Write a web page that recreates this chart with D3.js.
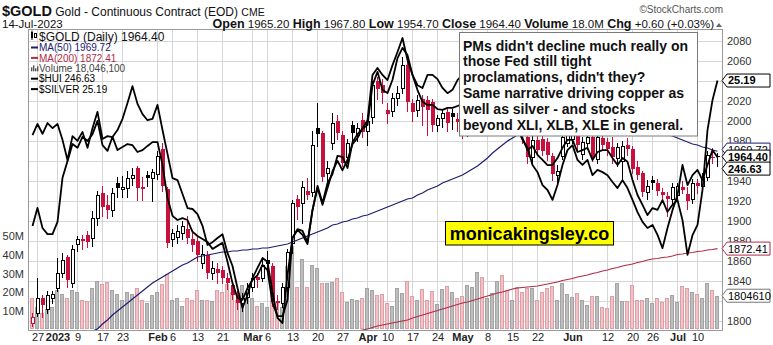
<!DOCTYPE html>
<html>
<head>
<meta charset="utf-8">
<title>$GOLD daily</title>
<script src="https://cdn.jsdelivr.net/npm/d3@7/dist/d3.min.js"></script>
<style>
  html, body { margin: 0; padding: 0; background: #ffffff; }
  svg { display: block; font-family: "Liberation Sans", Arial, Helvetica, sans-serif; }
</style>
</head>
<body>
<svg id="chart" width="773" height="345"></svg>
<script>
// ---------- trading sessions (Dec 23 2022 – Jul 14 2023) ----------
const sessionMonths = ["2022-12","2023-01","2023-02","2023-03","2023-04","2023-05","2023-06","2023-07"];
const sessionDays = [
  [23,27,28,29,30],
  [3,4,5,6,9,10,11,12,13,17,18,19,20,23,24,25,26,27,30,31],
  [1,2,3,6,7,8,9,10,13,14,15,16,17,21,22,23,24,27,28],
  [1,2,3,6,7,8,9,10,13,14,15,16,17,20,21,22,23,24,27,28,29,30,31],
  [3,4,5,6,10,11,12,13,14,17,18,19,20,21,24,25,26,27,28],
  [1,2,3,4,5,8,9,10,11,12,15,16,17,18,19,22,23,24,25,26,30,31],
  [1,2,5,6,7,8,9,12,13,14,15,16,20,21,22,23,26,27,28,29,30],
  [3,5,6,7,10,11,12,13,14]
];

// ---------- $GOLD daily OHLC ----------
const open = [
  1798,1808,1823,1812,1823,1833,1848,1864,1838,1877,
  1882,1886,1883,1903,1928,1916,1911,1938,1932,1933,
  1943,1953,1934,1946,1943,1947,1972,1932,1882,1884,
  1888,1892,1882,1880,1858,1866,1848,1852,1851,1843,
  1836,1826,1818,1824,1834,1844,1843,1861,1855,1820,
  1818,1834,1878,1922,1918,1930,1929,1993,1988,1948,
  1978,2000,1986,1964,1996,1986,2001,1990,2004,2040,
  2036,2011,2010,2023,2033,2056,2018,2011,2022,2021,
  2019,1996,2003,2009,2008,2002,1999,1990,2023,2042,
  2052,2024,2030,2036,2038,2030,2019,2022,1995,1984,
  1964,1981,1982,1979,1965,1946,1965,1978,1982,1996,
  1967,1978,1984,1962,1983,1979,1974,1963,1960,1976,
  1972,1954,1948,1929,1941,1938,1929,1925,1922,1926,
  1934,1927,1922,1938,1935,1944,1964.5,1965.2
];
const high = [
  1808,1843,1826,1830,1830,1863,1868,1866,1876,1885,
  1886,1890,1910,1930,1935,1926,1933,1944,1945,1950,
  1953,1955,1944,1950,1952,1970,1978,1934,1892,1896,
  1900,1905,1888,1884,1876,1870,1860,1858,1855,1848,
  1840,1830,1828,1838,1848,1848,1862,1870,1858,1826,
  1838,1872,1921,1926,1940,1943,1990,2018,1990,1960,
  2008,2006,1990,1982,2000,1998,2008,2006,2040,2044,
  2042,2018,2028,2035,2064,2060,2022,2026,2026,2025,
  2022,2006,2012,2012,2012,2008,2005,2025,2045,2085,
  2056,2036,2042,2050,2042,2034,2030,2025,2000,1988,
  1985,1987,1986,1983,1968,1956,1990,1995,2001,2000,
  1984,1990,1988,1987,1988,1983,1984,1978,1980,1983,
  1975,1960,1950,1941,1945,1942,1933,1929,1938,1938,
  1940,1934,1942,1942,1948,1970,1973,1967.8
];
const low = [
  1795,1805,1804,1808,1818,1830,1844,1834,1834,1870,
  1872,1874,1875,1896,1905,1903,1905,1924,1924,1924,
  1936,1921,1921,1935,1920,1942,1930,1874,1875,1878,
  1882,1878,1870,1860,1853,1843,1842,1838,1838,1832,
  1822,1812,1810,1818,1830,1834,1840,1850,1815,1812,
  1814,1830,1868,1902,1898,1922,1925,1975,1940,1938,
  1972,1982,1955,1958,1980,1980,1984,1976,1998,2022,
  2018,1998,2005,2016,2028,2010,2000,2005,1996,1986,
  1990,1990,1994,1990,1992,1990,1983,1985,2015,2038,
  2010,2018,2024,2025,2022,2010,2010,1990,1978,1958,
  1958,1968,1966,1961,1941,1938,1962,1975,1978,1970,
  1962,1972,1960,1958,1972,1966,1958,1955,1940,1966,
  1948,1942,1925,1922,1932,1926,1920,1905,1918,1920,
  1928,1912,1918,1928,1932,1941,1958,1954.7
];
const close = [
  1804,1823,1816,1826,1827,1848,1861,1841,1872,1882,
  1880,1879,1903,1926,1914,1911,1928,1933,1934,1943,
  1946,1933,1932,1943,1949,1965,1935,1878,1888,1890,
  1895,1883,1876,1866,1867,1848,1853,1848,1843,1838,
  1826,1818,1823,1832,1843,1841,1856,1857,1819,1818,
  1834,1869,1918,1914,1934,1926,1976,1987,1944,1953,
  1998,1988,1958,1978,1988,1993,1989,2000,2036,2032,
  2028,2007,2023,2028,2056,2019,2009,2021,2014,2011,
  1996,2003,2008,1998,2004,1999,1990,2023,2040,2050,
  2025,2030,2036,2038,2030,2019,2022,1995,1986,1964,
  1981,1971,1970,1966,1947,1950,1984,1986,1992,1976,
  1979,1984,1963,1984,1976,1972,1964,1974,1975,1972,
  1952,1946,1929,1935,1938,1930,1926,1922,1934,1935,
  1931,1920,1938,1935,1944,1966,1963.8,1964.4
];
const priorClose = 1810;

// volume, millions of contracts
const volume = [
  17,12,9,11,12,21,19,17,21,20,
  16,15,22,26,24.6,25.6,21,19,15.6,20,
  19,22,15.6,14,18.6,20,24.6,30,16,17,
  12.7,17,15.6,21,15.6,16,15,21,20,24.6,
  20,16,23.8,17,17,12.7,14,12,23,14,
  12,34,45,23,38,22.6,34.6,32.8,24.7,24.7,
  25.6,27.5,20,14.6,16.5,16,17,22,21,18.5,
  19,14,12.6,22,19.3,26,18,16,21.5,15.6,
  20.6,13.6,21.5,23.3,20,17,18,23.8,23,30.6,
  28.3,16.6,19.7,26,29,21,15.6,23,20,22,
  22,15.6,20,22,23.3,16,25,19,17.5,19.3,
  16,12.8,18,18,12,11.5,18,25,15.4,15,
  23.8,16,15.6,17,14,17,14.8,16.6,18.4,14.8,
  23.3,22,20,19,16.6,24.8,21,18.0461
];

// moving averages of the close
const ma50 = [
  1760,1762,1764,1766,1768,1771,1773,1776,1779,1782,
  1784,1787,1790,1792,1797,1801,1806,1810,1814,1818,
  1822,1826,1830,1834,1838,1841,1844,1847,1850,1853,
  1856,1858,1861,1864,1865,1866,1867,1868,1869,1869,
  1870,1870,1871,1871,1872,1872,1873,1873,1874,1875,
  1876,1877,1879,1881,1883,1885,1887,1889,1891,1893,
  1896,1897,1899,1900,1902,1903,1905,1906,1908,1910,
  1912,1914,1916,1918,1920,1922,1923,1926,1928,1931,
  1933,1935,1938,1940,1942,1944,1946,1949,1952,1955,
  1959,1963,1968,1972,1976,1980,1983,1986,1988,1990,
  1992,1993,1995,1996,1997,1998,1999,2000,2001,2001,
  2002,2002,2002,2002,2001,2001,2000,1999,1998,1997,
  1996,1995,1993,1992,1990,1989,1987,1986,1985,1983,
  1981,1979,1977,1976,1974,1973,1971,1969.72
];
const ma200 = [
  1768,1768,1768,1768,1768,1768,1768,1768,1768,1768,
  1768,1768.5,1769,1769,1769,1769,1769.5,1770,1770,1770,
  1770.5,1771,1771,1771.5,1772,1772,1772.5,1773,1773,1773.5,
  1774,1774,1774.5,1775,1775,1775.5,1776,1776,1776.5,1777,
  1777,1777.5,1778,1778,1778.5,1779,1779,1779.5,1780,1780,
  1780.5,1781,1781.5,1782,1782.5,1783,1783.5,1784,1784.5,1785,
  1786,1787,1787.5,1788,1789,1790,1791,1792,1793.5,1795,
  1796,1797,1798,1799,1800,1801,1803,1804.5,1806,1807.5,
  1809,1810.5,1812,1813.5,1815,1816.5,1818,1819,1820.5,1822,
  1823.5,1825,1826.5,1828,1829,1830.5,1832,1833,1833.5,1834,
  1834.5,1835,1836,1837,1838,1839,1840.5,1841.5,1842.5,1844,
  1845,1846,1847.5,1848.5,1850,1851,1852.5,1853.5,1855,1856,
  1857,1858.5,1859.5,1861,1862,1862.5,1863.5,1864,1865,1866.5,
  1867,1868,1868.5,1869.5,1870,1871,1871.5,1872.41
];

// overlays: Gold Bugs index and silver
const hui = [
  228.5,233.3,228.0,226.4,226.4,229.6,241.2,245.6,250.1,249.1,
  252.0,250.9,252.7,256.2,249.8,248.3,252.0,248.5,249.3,250.1,
  249.8,248.0,248.5,249.6,250.6,250.6,244.6,235.9,231.2,230.1,
  230.6,230.1,227.0,225.9,225.1,224.3,222.5,223.3,224.1,219.1,
  213.5,209.6,209.1,212.2,214.3,215.6,218.3,216.9,208.3,204.8,
  204.8,209.1,225.4,227.5,226.2,223.8,232.7,239.1,234.6,239.8,
  242.2,247.0,246.7,243.8,250.6,252.7,254.1,255.1,265.6,269.1,
  264.3,263.5,267.0,272.7,275.4,273.5,268.3,264.3,261.2,260.4,
  260.4,259.3,259.1,259.6,259.6,260.1,260.6,263.0,264.8,267.0,
  263.8,263.0,261.7,260.4,257.7,256.4,255.9,254.3,251.2,249.1,
  244.6,242.7,239.3,238.0,235.4,239.3,244.6,248.5,249.8,245.9,
  244.6,245.9,241.9,243.3,242.7,241.9,240.1,238.5,240.6,238.5,
  235.4,232.2,229.6,228.0,228.8,226.2,222.7,228.0,232.7,236.7,
  244.6,239.3,241.9,243.3,240.6,244.6,248.5,246.63
];
const silver = [
  24.02,24.26,24.05,24.28,24.17,24.26,23.92,23.49,24.00,23.90,
  24.09,23.75,24.17,24.52,23.94,24.00,23.98,24.13,24.37,24.71,
  25.07,24.69,24.47,24.34,24.37,24.67,24.13,23.62,23.10,23.06,
  22.76,22.46,22.44,22.33,22.08,21.67,21.73,21.82,21.90,21.50,
  21.22,20.75,20.32,20.60,20.96,21.18,21.39,21.31,20.66,20.11,
  20.00,21.03,21.82,22.01,21.97,21.73,22.42,22.89,22.53,22.89,
  23.25,23.47,23.27,23.49,23.83,23.96,24.17,24.34,25.31,25.46,
  25.31,25.20,25.52,25.80,26.10,25.63,25.31,25.09,25.03,25.31,
  25.31,25.22,25.03,24.92,24.99,25.20,25.31,25.59,25.74,26.01,
  25.67,25.63,25.50,25.24,24.39,24.30,24.24,24.13,23.96,23.70,
  23.79,23.60,23.49,23.38,23.38,23.53,23.75,23.92,23.92,23.66,
  23.70,23.75,23.49,23.66,23.70,23.70,23.53,23.38,23.53,23.45,
  23.06,22.74,22.53,22.31,22.46,22.42,22.63,22.38,22.53,22.63,
  22.20,21.46,21.88,22.10,22.85,24.13,24.77,25.19
];

// ---------- axis ticks ----------
const priceTicks = [1800,1820,1840,1860,1880,1900,1920,1940,1960,1980,2000,2020,2040,2060,2080];
const volumeTicks = [10,20,30,40,50];
const xTickDates = ["2022-12-27","2023-01-03","2023-01-09","2023-01-17","2023-01-23","2023-02-01",
  "2023-02-06","2023-02-13","2023-02-21","2023-03-01","2023-03-06","2023-03-13","2023-03-20",
  "2023-03-27","2023-04-03","2023-04-10","2023-04-17","2023-04-24","2023-05-01","2023-05-08",
  "2023-05-15","2023-05-22","2023-06-01","2023-06-12","2023-06-20","2023-06-26","2023-07-03","2023-07-10"];
const xTickLabels = ["27","2023","9","17","23","Feb","6","13","21","Mar","6","13","20","27","Apr",
  "10","17","24","May","8","15","22","Jun","12","20","26","Jul","10"];

const noteLines = [
  "PMs didn't decline much really on",
  "those Fed still tight",
  "proclamations, didn't they?",
  "Same narrative driving copper as",
  "well as silver - and stocks",
  "beyond XLI, XLB, XLE in general."
];
const siteName = "monicakingsley.co";

// ---------- build ----------
const dates = sessionMonths.flatMap((m, k) =>
  sessionDays[k].map(d => `${m}-${String(d).padStart(2, "0")}`));
const rows = dates.map((d, i) => ({
  date: d, o: open[i], h: high[i], l: low[i], c: close[i], v: volume[i],
  prev: i ? close[i - 1] : priorClose
}));

const P = { left: 28, right: 722, top: 29, bottom: 330 };
const RED = "#c8103c";
const NAVY = "#1c1c72";
const MAROON = "#b02c48";
const FONT = "Liberation Sans, Arial, sans-serif";

const x = d3.scalePoint().domain(dates).range([32, 717]);
const y = d3.scaleLinear().domain([1800, 2080]).range([321, 41]);
const yVol = d3.scaleLinear().domain([0, 50]).range([329.3, 236.3]);
const yHui = d3.scaleLinear().domain([203, 278]).range([323, 38]);
const ySilver = d3.scaleLinear().domain([20.0, 26.10]).range([323, 38]);
const px = d => Math.round(x(d));

const svg = d3.select("#chart");
svg.append("rect").attr("width", 773).attr("height", 345).attr("fill", "#fff");

svg.append("defs").append("clipPath").attr("id", "plotClip")
  .append("rect").attr("x", P.left).attr("y", P.top)
  .attr("width", P.right - P.left).attr("height", P.bottom - P.top);

// grid
const grid = svg.append("g").attr("shape-rendering", "crispEdges");
grid.selectAll("line.h").data(priceTicks).join("line")
  .attr("x1", P.left).attr("x2", P.right)
  .attr("y1", d => Math.round(y(d)) + 0.5).attr("y2", d => Math.round(y(d)) + 0.5)
  .attr("stroke", "#d6d6d6");
grid.selectAll("line.v").data(xTickDates).join("line")
  .attr("x1", d => px(d) + 0.5).attr("x2", d => px(d) + 0.5)
  .attr("y1", P.top).attr("y2", P.bottom)
  .attr("stroke", "#d6d6d6");

const plotG = svg.append("g").attr("clip-path", "url(#plotClip)");

// volume bars
plotG.append("g").attr("shape-rendering", "crispEdges")
  .selectAll("rect").data(rows).join("rect")
  .attr("x", d => px(d.date) - 1.5)
  .attr("y", d => Math.round(yVol(d.v)) + 0.5)
  .attr("width", 3)
  .attr("height", d => Math.max(0, Math.round(yVol(0)) - Math.round(yVol(d.v)) - 1))
  .attr("fill", d => d.c >= d.prev ? "#bdbdbd" : "#f1c1c6")
  .attr("stroke", d => d.c >= d.prev ? "#a4a4a4" : "#dea0a8");

// candles
const candles = plotG.append("g").attr("shape-rendering", "crispEdges");
const col = d => d.c >= d.prev ? "#000" : RED;
candles.selectAll("line").data(rows).join("line")
  .attr("x1", d => px(d.date) + 0.5).attr("x2", d => px(d.date) + 0.5)
  .attr("y1", d => Math.round(y(d.h))).attr("y2", d => Math.round(y(d.l)) + 1)
  .attr("stroke", col);
candles.selectAll("rect.filled").data(rows.filter(d => d.c < d.o)).join("rect")
  .attr("class", "filled")
  .attr("x", d => px(d.date) - 1.5).attr("width", 4)
  .attr("y", d => Math.round(y(d.o)))
  .attr("height", d => Math.max(1, Math.round(y(d.c)) - Math.round(y(d.o))))
  .attr("fill", col);
candles.selectAll("rect.hollow").data(rows.filter(d => d.c >= d.o)).join("rect")
  .attr("class", "hollow")
  .attr("x", d => px(d.date) - 1).attr("width", 3)
  .attr("y", d => Math.round(y(d.c)) + 0.5)
  .attr("height", d => Math.max(1, Math.round(y(d.o)) - Math.round(y(d.c))))
  .attr("fill", "#fff").attr("stroke", col);

// moving averages
const maLine = d3.line().x((d, i) => x(dates[i]) + 0.5).y(d => y(d));
plotG.append("path").datum(ma200).attr("d", maLine)
  .attr("fill", "none").attr("stroke", MAROON).attr("stroke-width", 1.2);
plotG.append("path").datum(ma50).attr("d", maLine)
  .attr("fill", "none").attr("stroke", NAVY).attr("stroke-width", 1.2);

// overlays
plotG.append("path").datum(hui)
  .attr("d", d3.line().x((d, i) => x(dates[i]) + 0.5).y(d => yHui(d)))
  .attr("fill", "none").attr("stroke", "#000").attr("stroke-width", 1.8).attr("stroke-linejoin", "round");
plotG.append("path").datum(silver)
  .attr("d", d3.line().x((d, i) => x(dates[i]) + 0.5).y(d => ySilver(d)))
  .attr("fill", "none").attr("stroke", "#000").attr("stroke-width", 1.8).attr("stroke-linejoin", "round");

// plot frame
svg.append("rect").attr("x", P.left + 0.5).attr("y", P.top + 0.5)
  .attr("width", P.right - P.left).attr("height", P.bottom - P.top)
  .attr("fill", "none").attr("stroke", "#9a9a9a").attr("shape-rendering", "crispEdges");

// value tags on the right edge (positions first, so covered axis labels can be skipped)
const n = rows.length - 1;
const yClose = y(close[n]);
const tags = [
  { yc: ySilver(silver[n]), label: silver[n].toFixed(2), stroke: "#000", bold: true },
  { yc: y(ma200[n]), label: ma200[n].toFixed(2), stroke: MAROON, bold: false },
  { yc: yVol(volume[n]), label: String(Math.round(volume[n] * 1e6)).slice(0, 7), stroke: "#777", bold: false },
  { yc: Math.min(y(ma50[n]), yClose - 7), label: ma50[n].toFixed(2), stroke: NAVY, bold: false },
  { yc: yClose, label: close[n].toFixed(2), stroke: "#000", bold: true },
  { yc: Math.max(yHui(hui[n]), yClose + 12), label: hui[n].toFixed(2), stroke: "#000", bold: true }
];
const visibleTicks = priceTicks.filter(t => tags.every(g => Math.abs(g.yc - y(t)) > 6.5));

// axes
const axR = svg.append("g").attr("transform", `translate(${P.right},0)`)
  .call(d3.axisRight(y).tickValues(visibleTicks).tickSize(0).tickPadding(5).tickFormat(d3.format("d")));
axR.select(".domain").remove();
axR.selectAll("text").attr("font-size", 11).attr("fill", "#333").attr("font-family", FONT);

const axL = svg.append("g").attr("transform", `translate(24,0)`)
  .call(d3.axisLeft(yVol).tickValues(volumeTicks).tickSize(0).tickPadding(0).tickFormat(d => d + "M"));
axL.select(".domain").remove();
axL.selectAll("text").attr("font-size", 11).attr("fill", "#333").attr("font-family", FONT);

const labelOf = new Map(xTickDates.map((d, i) => [d, xTickLabels[i]]));
const axB = svg.append("g").attr("transform", `translate(0.5,${P.bottom})`)
  .call(d3.axisBottom(x).tickValues(xTickDates).tickSize(0).tickPadding(3).tickFormat(d => labelOf.get(d)));
axB.select(".domain").remove();
axB.selectAll("text").attr("font-size", 11).attr("fill", "#222").attr("font-family", FONT)
  .attr("font-weight", d => /^\d{1,2}$/.test(labelOf.get(d)) ? "normal" : "bold");

tags.forEach(t => {
  const g = svg.append("g");
  g.append("path")
    .attr("d", `M${P.right},${t.yc} L${P.right + 5},${t.yc - 6.5} L770,${t.yc - 6.5} L770,${t.yc + 6.5} L${P.right + 5},${t.yc + 6.5} Z`)
    .attr("fill", "#fff").attr("stroke", t.stroke).attr("stroke-width", 1);
  g.append("text").attr("x", P.right + 6).attr("y", t.yc).attr("dy", "0.36em")
    .attr("font-size", 11).attr("font-weight", t.bold ? "bold" : "normal")
    .attr("font-family", FONT).attr("fill", "#000").text(t.label);
});

// legend
const lg = svg.append("g").attr("font-family", FONT);
lg.append("rect").attr("x", 31).attr("y", 32).attr("width", 2).attr("height", 6).attr("fill", "#000");
lg.append("line").attr("x1", 32).attr("x2", 32).attr("y1", 30.5).attr("y2", 40).attr("stroke", "#000");
lg.append("rect").attr("x", 34.5).attr("y", 33.5).attr("width", 2).attr("height", 4).attr("fill", "#fff").attr("stroke", "#000");
lg.append("text").attr("x", 39).attr("y", 40.5).attr("font-size", 12).attr("fill", "#111")
  .text(`$GOLD (Daily) ${close[n].toFixed(2)}`);
const legendRows = [
  { label: `MA(50) ${ma50[n].toFixed(2)}`, color: NAVY, icon: "dash" },
  { label: `MA(200) ${ma200[n].toFixed(2)}`, color: MAROON, icon: "dash" },
  { label: `Volume ${d3.format(",")(Math.round(volume[n] * 1e6))}`, color: "#444", icon: "bars" },
  { label: `$HUI ${hui[n].toFixed(2)}`, color: "#000", icon: "dash" },
  { label: `$SILVER ${silver[n].toFixed(2)}`, color: "#000", icon: "dash" }
];
legendRows.forEach((r, k) => {
  const yc = 47.5 + k * 10.4;
  if (r.icon === "dash") {
    lg.append("rect").attr("x", 31).attr("y", yc - 1).attr("width", 7).attr("height", 2).attr("fill", r.color);
  } else {
    [[31, 4], [33, 6], [35, 3], [37, 5]].forEach(([bx, bh]) =>
      lg.append("rect").attr("x", bx).attr("y", yc + 3 - bh).attr("width", 1.4).attr("height", bh).attr("fill", "#555"));
  }
  lg.append("text").attr("x", 39).attr("y", yc).attr("dy", "0.36em")
    .attr("font-size", 10).attr("fill", r.color).text(r.label);
});

// header
const hd = svg.append("g").attr("font-family", FONT).attr("fill", "#111");
const t1 = hd.append("text").attr("x", 2).attr("y", 16);
t1.append("tspan").attr("font-size", 14.5).attr("font-weight", "bold").text("$GOLD");
t1.append("tspan").attr("font-size", 12).text(" Gold - Continuous Contract (EOD) ");
t1.append("tspan").attr("font-size", 10.5).text("CME");
hd.append("text").attr("x", 2).attr("y", 27.5).attr("font-size", 11.5).text("14-Jul-2023");
hd.append("text").attr("x", 723).attr("y", 13).attr("text-anchor", "end")
  .attr("font-size", 10).attr("fill", "#555").text("\u00A9StockCharts.com");
const chg = close[n] - close[n - 1];
const quote = [
  ["Open", open[n].toFixed(2)], ["High", high[n].toFixed(2)], ["Low", low[n].toFixed(2)],
  ["Close", close[n].toFixed(2)], ["Volume", (volume[n]).toFixed(1) + "M"],
  ["Chg", `${chg >= 0 ? "+" : ""}${chg.toFixed(2)} (${chg >= 0 ? "+" : ""}${(chg / close[n - 1] * 100).toFixed(2)}%)`]
];
const t2 = hd.append("text").attr("x", 714).attr("y", 27.5).attr("text-anchor", "end");
quote.forEach(([k, v], i) => {
  t2.append("tspan").attr("font-size", 12.5).attr("font-weight", "bold").text((i ? "  " : "") + k);
  t2.append("tspan").attr("font-size", 11.5).text(" " + v);
});
hd.append("path").attr("d", "M716,27 L722,27 L719,23 Z").attr("fill", "#666");

// commentary box
const nb = svg.append("g").attr("font-family", FONT);
nb.append("rect").attr("x", 459.5).attr("y", 32.5).attr("width", 238).attr("height", 103.5)
  .attr("fill", "#fff").attr("stroke", "#7a7a7a");
nb.selectAll("text").data(noteLines).join("text")
  .attr("x", 463).attr("y", (d, i) => 50.5 + i * 15.8)
  .attr("font-size", 14).attr("font-weight", "bold").attr("fill", "#111").text(d => d);

// site badge
const sb = svg.append("g").attr("font-family", FONT);
sb.append("rect").attr("x", 445.5).attr("y", 221.5).attr("width", 168).attr("height", 23.5)
  .attr("fill", "#ffff00").attr("stroke", "#000");
sb.append("text").attr("x", 529.5).attr("y", 239.5).attr("text-anchor", "middle")
  .attr("font-size", 18).attr("font-weight", "bold").attr("fill", "#000").text(siteName);
</script>
</body>
</html>
